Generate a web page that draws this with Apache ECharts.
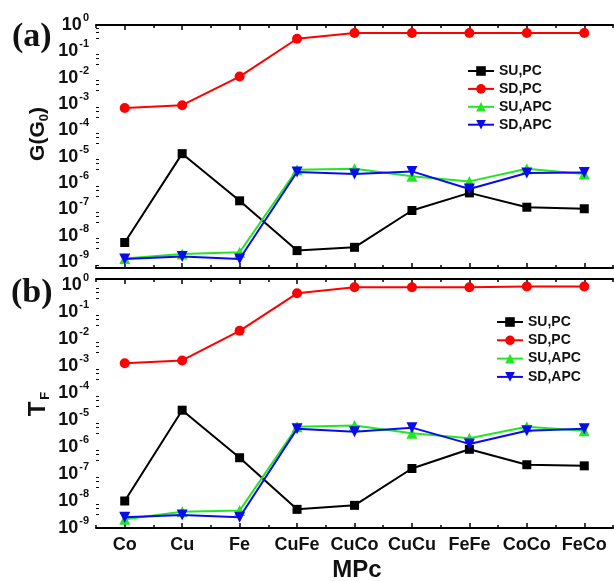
<!DOCTYPE html>
<html>
<head>
<meta charset="utf-8">
<script src="https://cdn.jsdelivr.net/npm/echarts@6/dist/echarts.min.js"></script>
<style>
  html, body { margin: 0; padding: 0; background: #fff; }
  #chart { width: 614px; height: 581px; }
</style>
</head>
<body>
<div id="chart"></div>
<script>
const categories = ["Co", "Cu", "Fe", "CuFe", "CuCo", "CuCu", "FeFe", "CoCo", "FeCo"];
const seriesNames = ["SU,PC", "SD,PC", "SU,APC", "SD,APC"];

// panel (a): G(G0)
const gSuPc = [5.5e-9, 1.3e-5, 2.1e-7, 2.7e-9, 3.6e-9, 9e-8, 4.2e-7, 1.2e-7, 1.05e-7];
const gSdPc = [7e-4, 9e-4, 1.1e-2, 0.3, 0.5, 0.5, 0.5, 0.5, 0.5];
const gSuApc = [1.35e-9, 2e-9, 2.35e-9, 3.2e-6, 3.5e-6, 1.8e-6, 1.15e-6, 3.5e-6, 2.2e-6];
const gSdApc = [1.3e-9, 1.6e-9, 1.3e-9, 2.6e-6, 2.2e-6, 2.75e-6, 5.9e-7, 2.4e-6, 2.5e-6];

// panel (b): T_F
const tSuPc = [1e-8, 2.3e-5, 4e-7, 4.9e-9, 6.9e-9, 1.6e-7, 8.2e-7, 2.2e-7, 2e-7];
const tSdPc = [1.26e-3, 1.6e-3, 2e-2, 0.49, 0.82, 0.82, 0.82, 0.87, 0.87];
const tSuApc = [2.1e-9, 4e-9, 4.4e-9, 5.6e-6, 6.3e-6, 3.2e-6, 2.1e-6, 5.6e-6, 4e-6];
const tSdApc = [2.5e-9, 3e-9, 2.5e-9, 4.7e-6, 3.7e-6, 5.2e-6, 1.3e-6, 4e-6, 4.7e-6];

const colors = ["#000000", "#ff0000", "#22e622", "#0a0aee"];
const symbols = ["rect", "circle", "triangle", "triangle"];
const symbolSizes = [9, 10, 11, 11];
const symbolRotates = [0, 0, 0, 180];

const fontMain = "'Liberation Sans', Arial, sans-serif";

function decadeLabel(value) {
  const e = Math.log10(value);
  const r = Math.round(e);
  if (Math.abs(e - r) > 1e-6) return "";
  return "{b|10}{s|" + r + "}";
}

function xAxes(gridIndex, showLabels) {
  const base = {
    type: "category",
    data: categories,
    gridIndex: gridIndex,
    boundaryGap: true,
    splitLine: { show: false },
  };
  return [
    Object.assign({}, base, {
      position: "bottom",
      axisLine: { lineStyle: { color: "#000", width: 2 } },
      axisTick: { show: true, inside: true, alignWithLabel: true, length: 5, lineStyle: { color: "#000", width: 1.5 } },
      axisLabel: {
        show: showLabels,
        color: "#111",
        fontFamily: fontMain,
        fontWeight: "bold",
        fontSize: 18,
        margin: 8,
        interval: 0,
      },
    }),
    Object.assign({}, base, {
      position: "bottom",
      axisLine: { show: false },
      axisTick: { show: true, inside: true, alignWithLabel: false, length: 3, lineStyle: { color: "#000", width: 1.5 } },
      axisLabel: { show: false },
    }),
    Object.assign({}, base, {
      position: "top",
      axisLine: { lineStyle: { color: "#000", width: 2 } },
      axisTick: { show: true, inside: true, alignWithLabel: true, length: 5, lineStyle: { color: "#000", width: 1.5 } },
      axisLabel: { show: false },
    }),
    Object.assign({}, base, {
      position: "top",
      axisLine: { show: false },
      axisTick: { show: true, inside: true, alignWithLabel: false, length: 3, lineStyle: { color: "#000", width: 1.5 } },
      axisLabel: { show: false },
    }),
  ];
}

function yAxes(gridIndex, min, max) {
  return [
    {
      type: "log",
      logBase: 10,
      gridIndex: gridIndex,
      min: min,
      max: max,
      position: "left",
      splitLine: { show: false },
      axisLine: { lineStyle: { color: "#000", width: 2 } },
      axisTick: { inside: true, length: 5, lineStyle: { color: "#000", width: 1.5 } },
      minorTick: { show: true, splitNumber: 4, length: 3, lineStyle: { color: "#000", width: 1 } },
      axisLabel: {
        formatter: decadeLabel,
        showMinLabel: true,
        showMaxLabel: true,
        margin: 7,
        rich: {
          b: { fontFamily: fontMain, fontWeight: "bold", fontSize: 18, color: "#111" },
          s: { fontFamily: fontMain, fontWeight: "bold", fontSize: 11, color: "#111", padding: [0, 0, 14, 1] },
        },
      },
    },
    {
      type: "log",
      logBase: 10,
      gridIndex: gridIndex,
      min: min,
      max: max,
      position: "right",
      splitLine: { show: false },
      axisLine: { lineStyle: { color: "#000", width: 2 } },
      axisTick: { inside: true, length: 4, lineStyle: { color: "#000", width: 1.5 } },
      axisLabel: { show: false },
    },
  ];
}

function makeSeries(values, i, xIndex, yIndex) {
  return {
    name: seriesNames[i],
    type: "line",
    data: values,
    xAxisIndex: xIndex,
    yAxisIndex: yIndex,
    symbol: symbols[i],
    symbolSize: symbolSizes[i],
    symbolRotate: symbolRotates[i],
    showSymbol: true,
    showAllSymbol: true,
    lineStyle: { color: colors[i], width: 2 },
    itemStyle: { color: colors[i] },
    emphasis: { disabled: true },
    z: 2 + i,
  };
}

const legendBase = {
  orient: "vertical",
  data: seriesNames,
  padding: 0,
  itemWidth: 26,
  itemHeight: 12,
  selectedMode: false,
  textStyle: { fontFamily: fontMain, fontWeight: "bold", fontSize: 14, color: "#111" },
};

const chart = echarts.init(document.getElementById("chart"));
chart.setOption({
  animation: false,
  backgroundColor: "#fff",
  grid: [
    { left: 96, right: 1, top: 25, height: 243 },
    { left: 96, right: 1, top: 279, height: 249 },
  ],
  xAxis: xAxes(0, false).concat(xAxes(1, true)),
  yAxis: yAxes(0, 5.9e-10, 1).concat(yAxes(1, 1e-9, 1.66)),
  legend: [
    Object.assign({}, legendBase, { left: 467, top: 64, itemGap: 3.9 }),
    Object.assign({}, legendBase, { left: 496, top: 315, itemGap: 4.3 }),
  ],
  series: [
    makeSeries(gSuPc, 0, 0, 0),
    makeSeries(gSdPc, 1, 0, 0),
    makeSeries(gSuApc, 2, 0, 0),
    makeSeries(gSdApc, 3, 0, 0),
    makeSeries(tSuPc, 0, 4, 2),
    makeSeries(tSdPc, 1, 4, 2),
    makeSeries(tSuApc, 2, 4, 2),
    makeSeries(tSdApc, 3, 4, 2),
  ],
  graphic: [
    {
      type: "text", left: 12, top: 20,
      style: { text: "(a)", font: "bold 34px 'Liberation Serif', 'Times New Roman', serif", fill: "#111" },
    },
    {
      type: "text", left: 11, top: 276,
      style: { text: "(b)", font: "bold 34px 'Liberation Serif', 'Times New Roman', serif", fill: "#111" },
    },
    {
      type: "text", x: 38, y: 134, rotation: Math.PI / 2,
      style: {
        text: "G(G{sub|0})",
        font: "bold 21px " + fontMain,
        fill: "#111",
        align: "center",
        verticalAlign: "middle",
        rich: { sub: { font: "bold 13px " + fontMain, fill: "#111", padding: [12, 0, 0, 0] } },
      },
    },
    {
      type: "text", x: 38, y: 404, rotation: Math.PI / 2,
      style: {
        text: "T{sub|F}",
        font: "bold 24px " + fontMain,
        fill: "#111",
        align: "center",
        verticalAlign: "middle",
        rich: { sub: { font: "bold 13px " + fontMain, fill: "#111", padding: [14, 0, 0, 2] } },
      },
    },
    {
      type: "text", x: 357, y: 570,
      style: { text: "MPc", font: "bold 24px " + fontMain, fill: "#111", align: "center", verticalAlign: "middle" },
    },
  ],
});
</script>
</body>
</html>
